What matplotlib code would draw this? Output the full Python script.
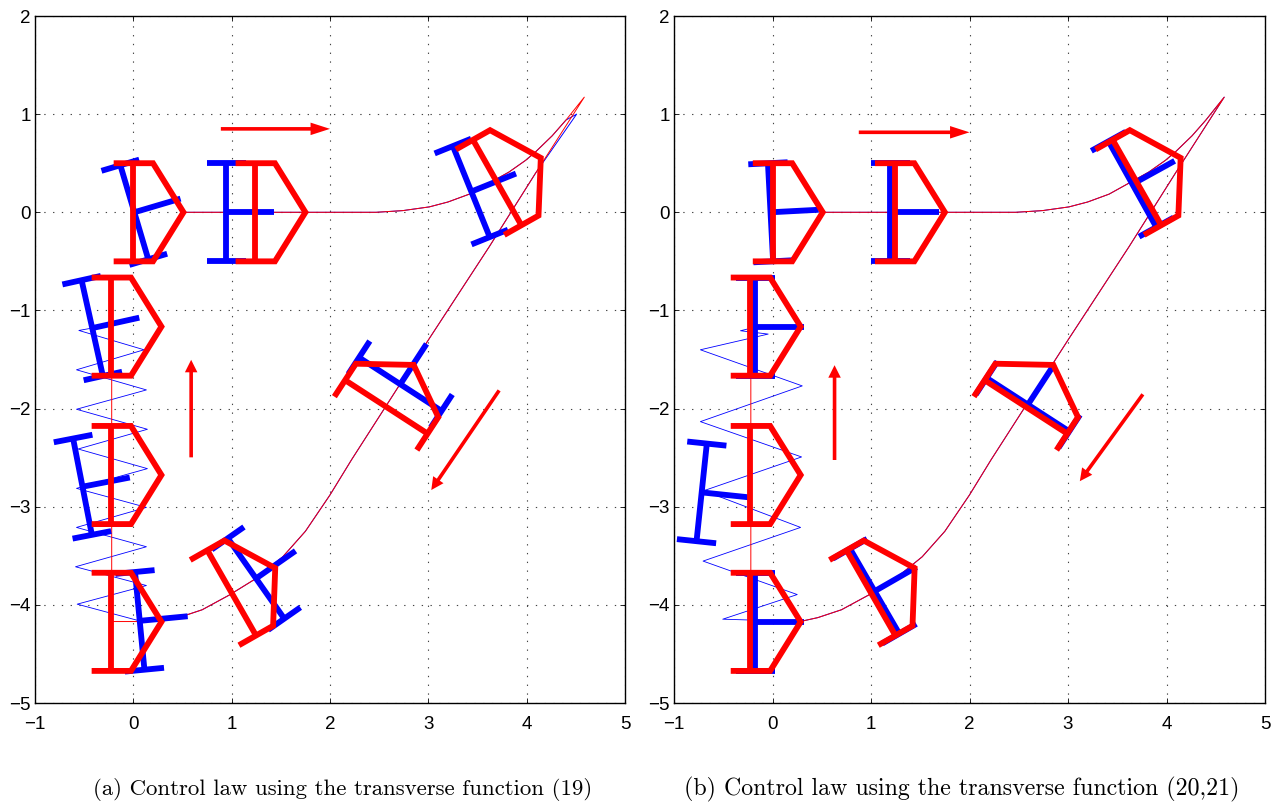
import numpy as np
import matplotlib
matplotlib.use("Agg")
import matplotlib.pyplot as plt

plt.rcParams['font.family'] = ['Liberation Sans', 'DejaVu Sans']

# robot outlines in body frame (origin at axle centre, x forward)
WHEEL_X = [-0.2, 0.2]
HULL_X = [-0.2, 0.2, 0.51, 0.2, -0.2]
HULL_Y = [0.5, 0.5, 0.0, -0.5, -0.5]
AXLE_X = [0.0, 0.0]
AXLE_Y = [-0.5, 0.5]
STEM_X = [0.0, 0.49]
STEM_Y = [0.0, 0.0]

# poses: x, y, heading in degrees
red_x = [0.0, 1.24, 3.70, 2.573, 1.0, -0.224, -0.224, -0.224]
red_y = [0.0, 0.0, 0.303, -1.983, -3.878, -1.165, -2.677, -4.173]
red_t = [0, 0, 29.5, 57, 29.7, 0, 0, 0]

blue_a_x = [0.01, 0.945, 3.437, 2.715, 1.248, -0.418, -0.517, 0.065]
blue_a_y = [0.0, 0.0, 0.211, -1.752, -3.731, -1.18, -2.796, -4.163]
blue_a_t = [16.5, 0, 22, 57, 35, 12.5, 11, 5.5]

blue_b_x = [-0.02, 1.196, 3.654, 2.593, 1.037, -0.173, -0.719, -0.173]
blue_b_y = [0.0, 0.0, 0.286, -1.96, -3.861, -1.17, -2.854, -4.173]
blue_b_t = [3, 0, 29, 57, 30, 0, -6, 0]

# lower arc and straight run, then the upper arc back to the start
rise_x = [0.28, 0.46, 0.70, 0.976, 1.25, 1.52, 1.75, 2.0, 2.22, 3.01, 3.62, 4.09]
rise_y = [-4.17, -4.13, -4.05, -3.90, -3.73, -3.51, -3.25, -2.88, -2.52, -1.286, -0.35, 0.398]
fall_x = [4.40, 4.26, 4.09, 3.99, 3.82, 3.586, 3.417, 3.2, 3.01, 2.74, 2.47, 1.89, 0.51]
fall_y = [0.94, 0.78, 0.615, 0.53, 0.41, 0.279, 0.185, 0.105, 0.055, 0.017, 0.0, 0.0, 0.0]

# reference path, same in both panels (red), with its cusp
red_cusp_x = [4.586]
red_cusp_y = [1.173]
lead_x = [-0.22, -0.22]
lead_y = [-1.17, -4.17]
# blue cusp differs a little in panel (a)
blue_cusp_a_x = [4.508]
blue_cusp_a_y = [1.0]
blue_cusp_b_x = [4.586]
blue_cusp_b_y = [1.173]

# blue zigzag from the last robot pose down to the lower arc
zig_a_x = [-0.42, -0.554, 0.109, -0.578, 0.133, -0.578, 0.143, -0.561, 0.143, -0.578, 0.133,
           -0.578, 0.133, -0.588, 0.133, -0.571, 0.04, 0.28]
zig_a_y = [-1.18, -1.204, -1.401, -1.605, -1.81, -2.007, -2.211, -2.412, -2.612, -2.813, -3.007,
           -3.211, -3.408, -3.612, -3.803, -3.993, -4.157, -4.17]
zig_b_x = [-0.173, -0.325, -0.044, -0.732, 0.302, -0.732, 0.295, -0.698, 0.285, -0.705, 0.251, -0.505, 0.28]
zig_b_y = [-1.17, -1.207, -1.241, -1.401, -1.769, -2.133, -2.493, -2.837, -3.211, -3.554, -3.895, -4.146, -4.17]

# arrows: start x, start y, end x, end y
arrows_a = [(0.89, 0.85, 2.0, 0.85), (0.588, -2.497, 0.588, -1.503), (3.72, -1.815, 3.03, -2.83)]
arrows_b = [(0.876, 0.815, 2.0, 0.815), (0.63, -2.524, 0.63, -1.558), (3.76, -1.855, 3.12, -2.74)]

xticks = [-1, 0, 1, 2, 3, 4, 5]
yticks = [-5, -4, -3, -2, -1, 0, 1, 2]
captions = ["(a) Control law using the transverse function (19)",
            "(b) Control law using the transverse function (20,21)"]

W, H = 1280.0, 805.0


def body_to_world(bx, by, x, y, t):
    a = np.deg2rad(t)
    bx = np.asarray(bx, dtype=float)
    by = np.asarray(by, dtype=float)
    return x + bx * np.cos(a) - by * np.sin(a), y + bx * np.sin(a) + by * np.cos(a)


def draw_blue(ax, x, y, t):
    style = dict(color="#0000ff", lw=4.2, solid_capstyle="butt", zorder=4)
    for bx, by in [(AXLE_X, AXLE_Y), (STEM_X, STEM_Y), (WHEEL_X, [0.5, 0.5]), (WHEEL_X, [-0.5, -0.5])]:
        ax.plot(*body_to_world(bx, by, x, y, t), **style)


def draw_red(ax, x, y, t):
    ax.plot(*body_to_world(HULL_X, HULL_Y, x, y, t), color="#ff0000", lw=4.2,
            solid_capstyle="butt", solid_joinstyle="miter", zorder=5)
    ax.plot(*body_to_world(AXLE_X, AXLE_Y, x, y, t), color="#ff0000", lw=4.2,
            solid_capstyle="butt", zorder=5)


def panel(rect, blue_x, blue_y, blue_t, zig_x, zig_y, cusp_x, cusp_y, arrows, caption, cap_cx, cap_size):
    left, right, top, bottom = rect
    ax = fig.add_axes([left / W, 1 - bottom / H, (right - left) / W, (bottom - top) / H])
    ax.set_xlim(-1, 5)
    ax.set_ylim(-5, 2)
    ax.set_xticks(xticks)
    ax.set_yticks(yticks)
    ax.grid(True, color="#444444", lw=0.8, linestyle=(0, (1.2, 6.7)))
    ax.set_axisbelow(True)
    ax.tick_params(direction="in", length=3.5, width=0.6, top=True, right=True, labelsize=13.5)
    ax.tick_params(axis="x", pad=9)
    ax.tick_params(axis="y", pad=3)
    for s in ax.spines.values():
        s.set_linewidth(1.0)

    ax.plot(zig_x, zig_y, color="#0000ff", lw=0.6, zorder=2)
    ax.plot(rise_x + cusp_x + fall_x, rise_y + cusp_y + fall_y, color="#0000ff", lw=0.7, zorder=2)
    ax.plot(lead_x + rise_x + red_cusp_x + fall_x, lead_y + rise_y + red_cusp_y + fall_y,
            color="#ff0000", lw=0.7, zorder=3)

    for x, y, t in zip(blue_x, blue_y, blue_t):
        draw_blue(ax, x, y, t)
    for x, y, t in zip(red_x, red_y, red_t):
        draw_red(ax, x, y, t)

    for i, (x0, y0, x1, y1) in enumerate(arrows):
        head = 14 if i == 0 else 9
        ax.annotate("", xy=(x1, y1), xytext=(x0, y0), zorder=6,
                    arrowprops=dict(facecolor="#ff0000", edgecolor="none", width=2.6,
                                    headwidth=9, headlength=head, shrink=0))

    fig.text(cap_cx / W, 1 - 789 / H, caption, family="cmr10", fontsize=cap_size, ha="center", va="center")


fig = plt.figure(figsize=(12.8, 8.05), dpi=100)
panel((35, 625, 16, 703), blue_a_x, blue_a_y, blue_a_t, zig_a_x, zig_a_y,
      blue_cusp_a_x, blue_cusp_a_y, arrows_a, captions[0], 342.5, 16.4)
panel((674, 1265, 16, 703), blue_b_x, blue_b_y, blue_b_t, zig_b_x, zig_b_y,
      blue_cusp_b_x, blue_cusp_b_y, arrows_b, captions[1], 962, 17.2)
fig.savefig("out.png", dpi=100)
